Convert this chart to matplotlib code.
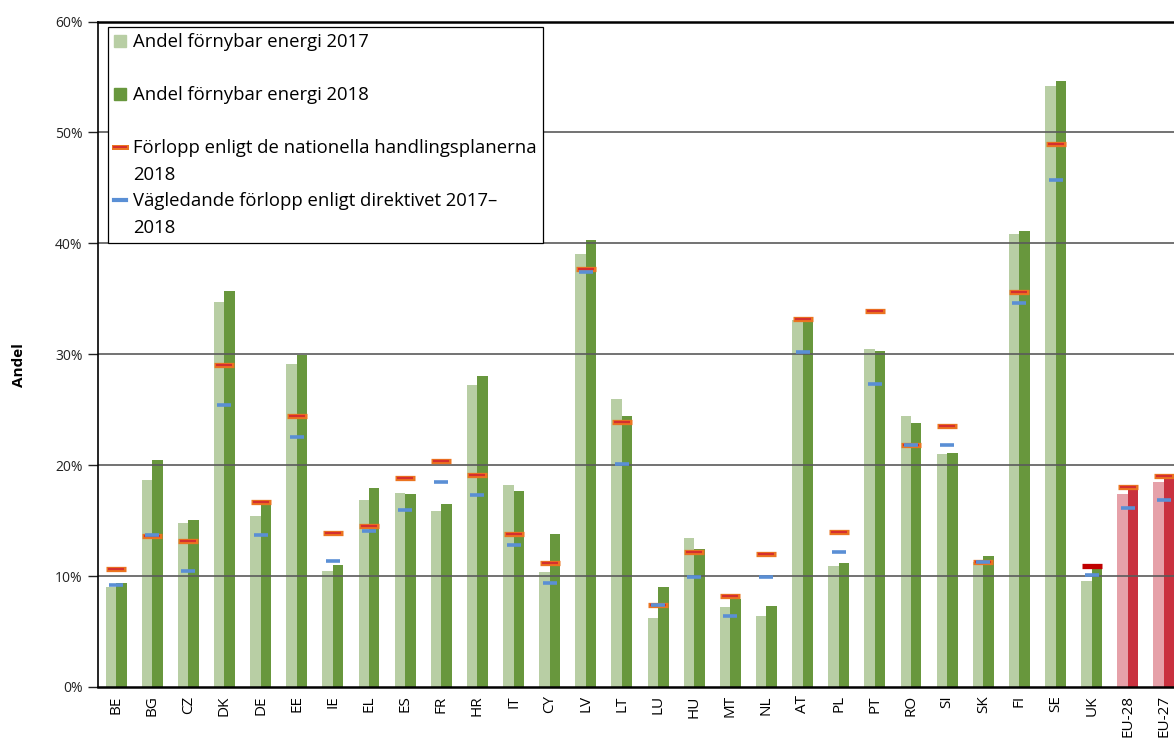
import numpy as np
import matplotlib
matplotlib.use("Agg")
import matplotlib.pyplot as plt
from matplotlib.lines import Line2D
from matplotlib.patches import Patch
from matplotlib.legend_handler import HandlerTuple

plt.rcParams["font.family"] = ["Open Sans", "DejaVu Sans"]

# andel förnybar energi per land, procent
countries = ["BE", "BG", "CZ", "DK", "DE", "EE", "IE", "EL", "ES", "FR", "HR", "IT", "CY",
             "LV", "LT", "LU", "HU", "MT", "NL", "AT", "PL", "PT", "RO", "SI", "SK", "FI",
             "SE", "UK", "EU-28", "EU-27"]
share_2017 = [9.0, 18.7, 14.8, 34.7, 15.4, 29.1, 10.5, 16.9, 17.5, 15.9, 27.2, 18.2, 10.4,
              39.0, 26.0, 6.2, 13.4, 7.2, 6.4, 33.1, 10.9, 30.5, 24.4, 21.0, 11.3, 40.8,
              54.2, 9.6, 17.4, 18.5]
share_2018 = [9.4, 20.5, 15.1, 35.7, 16.4, 29.9, 11.0, 17.9, 17.4, 16.5, 28.0, 17.7, 13.8,
              40.3, 24.4, 9.0, 12.4, 7.9, 7.3, 33.4, 11.2, 30.3, 23.8, 21.1, 11.8, 41.1,
              54.6, 11.0, 18.0, 18.8]
nreap_2018 = [10.6, 13.6, 13.2, 29.0, 16.7, 24.4, 13.9, 14.5, 18.8, 20.4, 19.1, 13.8, 11.2,
              37.7, 23.9, 7.4, 12.2, 8.2, 12.0, 33.2, 14.0, 33.9, 21.8, 23.5, 11.3, 35.6,
              49.0, 10.9, 18.0, 19.0]
indicative = [9.2, 13.7, 10.5, 25.4, 13.7, 22.5, 11.4, 14.1, 16.0, 18.5, 17.3, 12.8, 9.4,
              37.4, 20.1, 7.4, 9.9, 6.4, 9.9, 30.2, 12.2, 27.3, 21.8, 21.8, 11.3, 34.6,
              45.7, 10.1, 16.1, 16.9]
yticks = [0, 10, 20, 30, 40, 50, 60]

x = np.arange(len(countries))
is_eu = np.array([c.startswith("EU") for c in countries])
c17 = np.where(is_eu, "#E6A1A9", "#B8CEA4")
c18 = np.where(is_eu, "#C9313F", "#68973D")

fig = plt.figure(figsize=(11.74, 7.39), dpi=100)
ax = fig.add_axes([98 / 1174, 52 / 739, 1084 / 1174, 665.5 / 739])

w = 0.29
ax.bar(x - w / 2, share_2017, w, color=c17, zorder=2)
ax.bar(x + w / 2, share_2018, w, color=c18, zorder=2)

# markers: UK has a plain dark red dash
uk = countries.index("UK")
others = [i for i in range(len(countries)) if i != uk]
nr = np.array(nreap_2018)
ax.plot(x[others], nr[others], ls="none", marker="_", ms=14, mew=3.8, color="#EB7420", zorder=4)
ax.plot(x[others], nr[others], ls="none", marker="_", ms=11, mew=1.6, color="#D42F2F", zorder=5)
ax.plot([x[uk]], [nr[uk]], ls="none", marker="_", ms=14, mew=3.8, color="#C00000", zorder=5)
ax.plot(x, indicative, ls="none", marker="_", ms=9.5, mew=2.6, color="#5A8FD5", zorder=6)

ax.set_xlim(-0.5, len(countries) - 0.5)
ax.set_ylim(0, 60)
ax.set_yticks(yticks)
ax.set_yticklabels([f"{t}%" for t in yticks], fontsize=10)
ax.set_xticks(x)
ax.set_xticklabels(countries, rotation=90, fontsize=11)
ax.tick_params(axis="x", length=0, pad=6)
ax.tick_params(axis="y", length=7, width=1, pad=4, colors="#222222")

for t in yticks[1:-1]:
    ax.axhline(t, color="#5A5A5A", lw=1.2, zorder=3)
ax.spines["right"].set_visible(False)
ax.spines["top"].set_linewidth(1.8)
ax.spines["bottom"].set_linewidth(1.8)
ax.spines["left"].set_linewidth(1.2)
for s in ax.spines.values():
    s.set_zorder(7)

ax.set_ylabel("Andel", fontsize=11, fontweight="bold")
ax.yaxis.set_label_coords(-0.0667, 0.484)

blank = Patch(visible=False)
handles = [
    Patch(color="#B8CEA4"), blank,
    Patch(color="#68973D"), blank,
    (Line2D([], [], color="#EB7420", lw=3.6), Line2D([], [], color="#D42F2F", lw=1.4)), blank,
    Line2D([], [], color="#5A8FD5", lw=3.0), blank,
]
labels = ["Andel förnybar energi 2017", " ",
          "Andel förnybar energi 2018", " ",
          "Förlopp enligt de nationella handlingsplanerna", "2018",
          "Vägledande förlopp enligt direktivet 2017–", "2018"]
leg = ax.legend(handles, labels, loc="upper left", bbox_to_anchor=(108 / 1174, 1 - 27 / 739),
                bbox_transform=fig.transFigure, borderaxespad=0, fontsize=13.3,
                handlelength=0.6, handleheight=0.65, handletextpad=0.4,
                labelspacing=0.46, borderpad=0.35, fancybox=False, framealpha=1,
                edgecolor="black", handler_map={tuple: HandlerTuple(ndivide=1)})
leg.get_frame().set_linewidth(0.9)
leg.set_zorder(10)

fig.savefig("out.png", dpi=100)
